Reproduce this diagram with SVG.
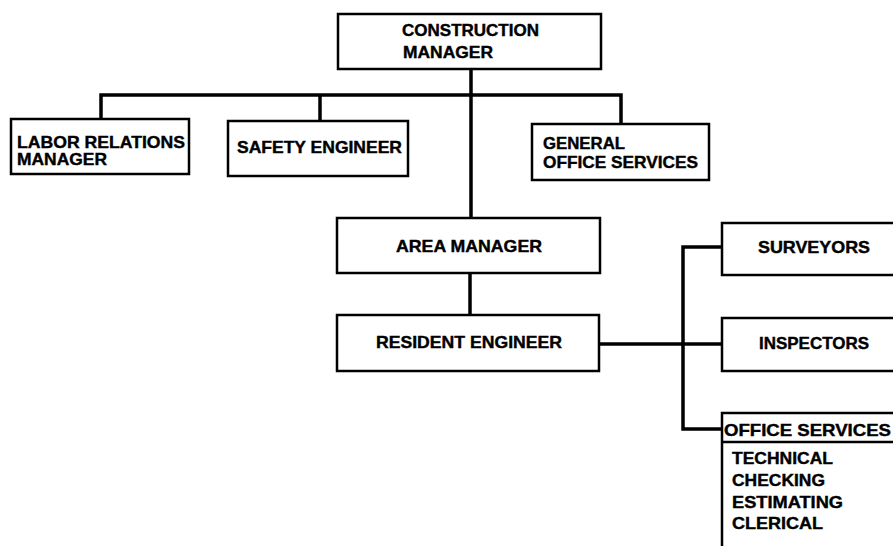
<svg xmlns="http://www.w3.org/2000/svg" width="893" height="546" viewBox="0 0 893 546">
<style>
.box{fill:#fff;stroke:#000;stroke-width:2.5}
.ln{fill:none;stroke:#000;stroke-width:3.5;stroke-linejoin:miter}
text{font-family:"Liberation Sans",Arial,sans-serif;font-weight:bold;font-size:16.5px;fill:#000;stroke:#000;stroke-width:0.4}
</style>
<rect width="893" height="546" fill="#fff"/>
<g id="connectors">
<path class="ln" d="M471 69V218"/>
<path class="ln" d="M101 119V95H621V124"/>
<path class="ln" d="M320 95V121"/>
<path class="ln" d="M470 273V315"/>
<path class="ln" d="M599 344H722"/>
<path class="ln" d="M722 247H683V429H722"/>
</g>
<g id="construction-manager">
<rect class="box" x="338" y="14" width="263" height="55"/>
<text x="402" y="36" textLength="137" lengthAdjust="spacingAndGlyphs">CONSTRUCTION</text>
<text x="403" y="58" textLength="90" lengthAdjust="spacingAndGlyphs">MANAGER</text>
</g>
<g id="labor-relations-manager">
<rect class="box" x="11" y="119" width="178" height="55"/>
<text x="17" y="148" textLength="168" lengthAdjust="spacingAndGlyphs">LABOR RELATIONS</text>
<text x="17" y="165" textLength="90" lengthAdjust="spacingAndGlyphs">MANAGER</text>
</g>
<g id="safety-engineer">
<rect class="box" x="228" y="121" width="180" height="55"/>
<text x="237" y="153" textLength="165" lengthAdjust="spacingAndGlyphs">SAFETY ENGINEER</text>
</g>
<g id="general-office-services">
<rect class="box" x="532" y="124" width="177" height="56"/>
<text x="543" y="149" textLength="82" lengthAdjust="spacingAndGlyphs">GENERAL</text>
<text x="543" y="168" textLength="155" lengthAdjust="spacingAndGlyphs">OFFICE SERVICES</text>
</g>
<g id="area-manager">
<rect class="box" x="337" y="218" width="263" height="55"/>
<text x="396" y="252" textLength="146" lengthAdjust="spacingAndGlyphs">AREA MANAGER</text>
</g>
<g id="resident-engineer">
<rect class="box" x="337" y="315" width="262" height="56"/>
<text x="376" y="348" textLength="186" lengthAdjust="spacingAndGlyphs">RESIDENT ENGINEER</text>
</g>
<g id="surveyors">
<rect class="box" x="722" y="223" width="190" height="52"/>
<text x="758" y="253" textLength="112" lengthAdjust="spacingAndGlyphs">SURVEYORS</text>
</g>
<g id="inspectors">
<rect class="box" x="722" y="318" width="190" height="53"/>
<text x="759" y="349" textLength="110" lengthAdjust="spacingAndGlyphs">INSPECTORS</text>
</g>
<g id="office-services">
<path class="box" d="M900 413H722V560" />
<path fill="none" stroke="#000" stroke-width="2.5" d="M722 442H900"/>
<text x="724" y="436" textLength="167" lengthAdjust="spacingAndGlyphs">OFFICE SERVICES</text>
<text x="732" y="464" textLength="101" lengthAdjust="spacingAndGlyphs">TECHNICAL</text>
<text x="732" y="486" textLength="93" lengthAdjust="spacingAndGlyphs">CHECKING</text>
<text x="732" y="508" textLength="111" lengthAdjust="spacingAndGlyphs">ESTIMATING</text>
<text x="732" y="529" textLength="91" lengthAdjust="spacingAndGlyphs">CLERICAL</text>
</g>
</svg>
